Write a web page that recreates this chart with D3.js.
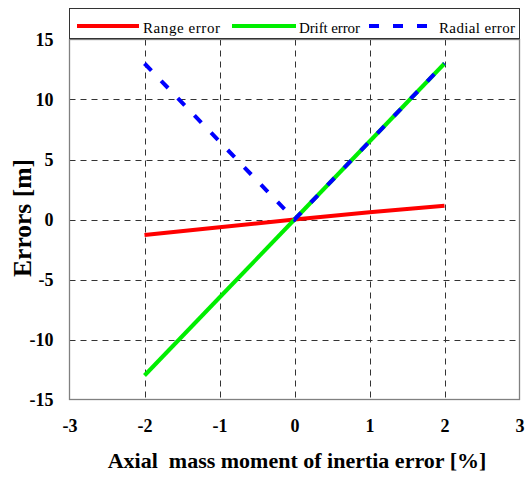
<!DOCTYPE html>
<html>
<head>
<meta charset="utf-8">
<script src="https://cdn.jsdelivr.net/npm/d3@7"></script>
<style>
  html, body { margin: 0; padding: 0; background: #fff; }
  svg { display: block; }
</style>
</head>
<body>
<svg id="chart" width="527" height="477"></svg>
<script>
// Inertia error sweep [%]
const inertiaError = [-2, -1, 0, 1, 2];
// Errors [m] for each sweep point
const rangeError  = [-1.3, -0.65, 0, 0.6, 1.15];
const driftError  = [-13, -6.5, 0, 6.5, 13];
const radialError = [13, 6.5, 0, 6.5, 13];

const xTicks = [-3, -2, -1, 0, 1, 2, 3];
const yTicks = [-15, -10, -5, 0, 5, 10, 15];

const seriesNames = ["Range error", "Drift error", "Radial error"];
const seriesColors = ["#ff0000", "#00ee00", "#0000ff"];
const seriesDash = [null, null, "10,14"];
const seriesValues = [rangeError, driftError, radialError];

const svg = d3.select("#chart");
const plot = { left: 69.5, right: 519.5, top: 39.5, bottom: 399.5 };

const x = d3.scaleLinear().domain([-3, 3]).range([plot.left, plot.right]);
const y = d3.scaleLinear().domain([-15, 15]).range([plot.bottom, plot.top]);

const serif = "Liberation Serif";

// dashed grid
const grid = svg.append("g");
grid.selectAll("line.vx").data(xTicks.slice(1, -1)).join("line")
  .attr("x1", d => Math.round(x(d)) + 0.5).attr("x2", d => Math.round(x(d)) + 0.5)
  .attr("y1", plot.top).attr("y2", plot.bottom)
  .attr("stroke", "#333").attr("stroke-width", 1).attr("stroke-dasharray", "6,5");
grid.selectAll("line.hy").data(yTicks.slice(1, -1)).join("line")
  .attr("y1", d => Math.round(y(d)) + 0.5).attr("y2", d => Math.round(y(d)) + 0.5)
  .attr("x1", plot.left).attr("x2", plot.right)
  .attr("stroke", "#333").attr("stroke-width", 1).attr("stroke-dasharray", "6,5");

// plot frame
svg.append("rect")
  .attr("x", plot.left).attr("y", plot.top)
  .attr("width", plot.right - plot.left).attr("height", plot.bottom - plot.top)
  .attr("fill", "none").attr("stroke", "#808080").attr("stroke-width", 1.3);

// axes (labels only; frame drawn above)
const xAxis = svg.append("g")
  .attr("transform", `translate(0,${plot.bottom})`)
  .call(d3.axisBottom(x).tickValues(xTicks).tickSize(0).tickPadding(20).tickFormat(d => String(d)));
xAxis.select(".domain").remove();
xAxis.attr("font-family", serif).attr("font-size", 18).attr("font-weight", "bold");
xAxis.selectAll("text").attr("fill", "#000");

const yAxis = svg.append("g")
  .attr("transform", `translate(${plot.left},0)`)
  .call(d3.axisLeft(y).tickValues(yTicks).tickSize(0).tickPadding(16).tickFormat(d => String(d)));
yAxis.select(".domain").remove();
yAxis.attr("font-family", serif).attr("font-size", 18).attr("font-weight", "bold");
yAxis.selectAll("text").attr("fill", "#000");

// axis titles
svg.append("text")
  .attr("x", 297).attr("y", 468)
  .attr("text-anchor", "middle")
  .attr("font-family", serif).attr("font-weight", "bold").attr("font-size", 22)
  .attr("xml:space", "preserve")
  .text("Axial  mass moment of inertia error [%]");

svg.append("text")
  .attr("transform", `translate(31,218) rotate(-90)`)
  .attr("text-anchor", "middle")
  .attr("font-family", serif).attr("font-weight", "bold").attr("font-size", 25.5)
  .text("Errors [m]");

// data lines
const line = d3.line().x((d, i) => x(inertiaError[i])).y(d => y(d));
seriesValues.forEach((vals, k) => {
  svg.append("path")
    .datum(vals)
    .attr("d", line)
    .attr("fill", "none")
    .attr("stroke", seriesColors[k])
    .attr("stroke-width", 4)
    .attr("stroke-dasharray", seriesDash[k]);
});

// legend box above the plot
const legend = svg.append("g");
legend.append("rect")
  .attr("x", 69.5).attr("y", 8.5).attr("width", 450).attr("height", 30)
  .attr("fill", "#fff").attr("stroke", "#333").attr("stroke-width", 1);
const legendItems = [
  { x1: 77, x2: 139, tx: 143, w: 77 },
  { x1: 232, x2: 296, tx: 299, w: 61 },
  { x1: 369, x2: 428, tx: 439, w: 76 }
];
legendItems.forEach((it, k) => {
  legend.append("line")
    .attr("x1", it.x1).attr("x2", it.x2).attr("y1", 26).attr("y2", 26)
    .attr("stroke", seriesColors[k]).attr("stroke-width", 4)
    .attr("stroke-dasharray", seriesDash[k]);
  legend.append("text")
    .attr("x", it.tx).attr("y", 32.5)
    .attr("font-family", serif).attr("font-size", 15).attr("fill", "#000")
    .attr("textLength", it.w).attr("lengthAdjust", "spacing")
    .text(seriesNames[k]);
});
</script>
</body>
</html>
